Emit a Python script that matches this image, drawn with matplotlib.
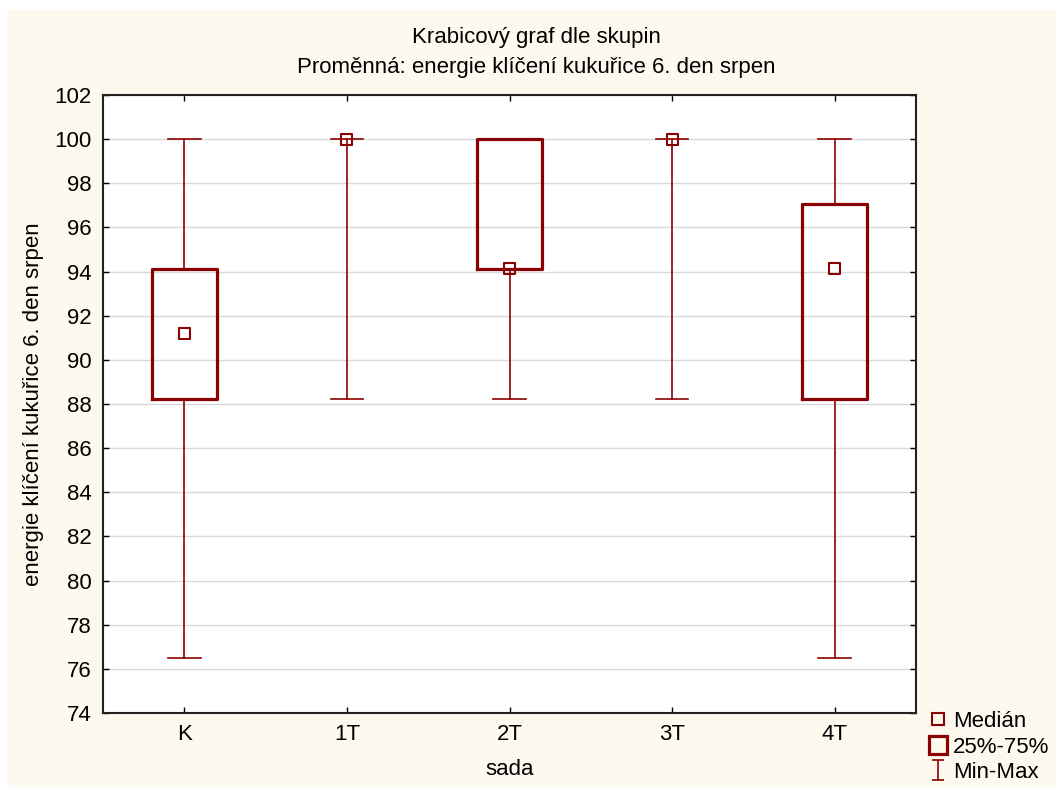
import matplotlib
matplotlib.use("Agg")
import matplotlib.pyplot as plt
from matplotlib.lines import Line2D
from matplotlib.patches import Rectangle
from matplotlib.path import Path

plt.rcParams['font.family'] = ['Liberation Sans', 'DejaVu Sans']

# data --------------------------------------------------------------------
groups = ["K", "1T", "2T", "3T", "4T"]
mins = [76.47, 88.24, 88.24, 88.24, 76.47]
q1s = [88.24, 100.0, 94.12, 100.0, 88.24]
medians = [91.18, 100.0, 94.12, 100.0, 94.12]
q3s = [94.12, 100.0, 100.0, 100.0, 97.06]
maxs = [100.0, 100.0, 100.0, 100.0, 100.0]
yticks = list(range(74, 103, 2))

red = "#8b0000"
cream = "#fef9ef"
fs = 16

fig = plt.figure(figsize=(10.56, 7.87), dpi=100, facecolor="white")
fig.patches.append(Rectangle((7/1056, 0), 1, 1 - 10/787, transform=fig.transFigure,
                             facecolor=cream, edgecolor="none", zorder=-10))
ax = fig.add_axes([103/1056, 1 - 713/787, (916-103)/1056, (713-95)/787])
ax.set_facecolor("white")

pos = list(range(len(groups)))
stats = []
for i in pos:
    stats.append(dict(med=medians[i], q1=q1s[i], q3=q3s[i],
                      whislo=mins[i], whishi=maxs[i], fliers=[]))

res = ax.bxp(stats, positions=pos, widths=0.4, capwidths=0.2, showfliers=False,
             boxprops=dict(color=red, linewidth=2.3),
             whiskerprops=dict(color=red, linewidth=1.2),
             capprops=dict(color=red, linewidth=1.2),
             medianprops=dict(linestyle="none"), zorder=3)
# krabice s nulovou výškou se nekreslí
for i in pos:
    if q1s[i] == q3s[i]:
        res["boxes"][i].set_visible(False)
# median boxes
ax.scatter(pos, medians, marker="s", s=62, facecolor="none", edgecolor=red,
           linewidths=1.5, zorder=4)

ax.set_xlim(-0.5, 4.5)
ax.set_ylim(74, 102)
ax.set_yticks(yticks)
ax.set_xticks(pos)
ax.set_xticklabels(groups)
ax.yaxis.grid(True, color="#d9d9d9", linewidth=1)
ax.set_axisbelow(True)
ax.tick_params(axis="both", direction="in", length=4, width=1, labelsize=fs,
               top=True, right=True, colors="black", pad=8)
for s in ax.spines.values():
    s.set_linewidth(1.5)
    s.set_color("#222222")

ax.set_xlabel("sada", fontsize=fs, labelpad=10)
ax.set_ylabel("energie klíčení kukuřice 6. den srpen", fontsize=fs, labelpad=8)

fig.text(0.508, 1 - 37/787, "Krabicový graf dle skupin", ha="center", va="center", fontsize=fs)
fig.text(0.508, 1 - 67/787, "Proměnná: energie klíčení kukuřice 6. den srpen",
         ha="center", va="center", fontsize=fs)

# legenda --------------------------------------------------------------------
imark = Path([(-0.6, 1), (0.6, 1), (0, 1), (0, -1), (-0.6, -1), (0.6, -1)],
             [Path.MOVETO, Path.LINETO, Path.MOVETO, Path.LINETO, Path.MOVETO, Path.LINETO])
handles = [
    Line2D([], [], linestyle="none", marker="s", markersize=8, markerfacecolor="none",
           markeredgecolor=red, markeredgewidth=1.5),
    Line2D([], [], linestyle="none", marker="s", markersize=13, markerfacecolor="none",
           markeredgecolor=red, markeredgewidth=2.3),
    Line2D([], [], linestyle="none", marker=imark, markersize=15, markerfacecolor="none",
           markeredgecolor=red, markeredgewidth=1.2),
]
fig.legend(handles, ["Medián", "25%-75%", "Min-Max"], loc="upper left",
           bbox_to_anchor=(920/1056, 1 - 700/787), frameon=False, fontsize=fs,
           handlelength=0.6, handletextpad=0.4, labelspacing=0.2, borderpad=0)

fig.savefig("out.png", dpi=100, facecolor=fig.get_facecolor())
